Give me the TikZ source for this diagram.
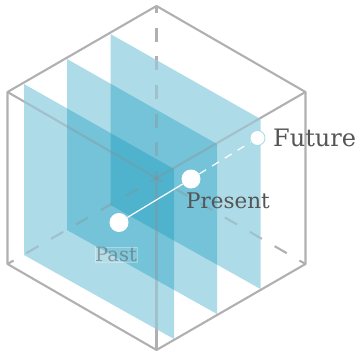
\documentclass[tikz,border=0pt]{standalone}
\usepackage{fontspec}
\setmainfont{DejaVu Serif}
\usepackage{tikz}

\newcommand{\cubeedges}[2]{
    \draw[#1, #2] (top) -- (center);
    \draw[#1, #2] (botleft) -- (center);
    \draw[#1, #2] (botright) -- (center);
    \draw[#2, line join=round] (top) -- (topright) -- (botright) -- (bottom) -- (botleft) -- (topleft) -- cycle;
    \draw[#2] (topleft) -- (center) -- (topright);
    \draw[#2] (center) -- (bottom);
}
\newcommand{\sliceat}[2]{(#1,#2) -- (#1+150,#2+85) -- (#1+150,#2+255) -- (#1,#2+171) -- cycle}

\begin{document}
\begin{tikzpicture}[
    x=1pt, y=-1pt,
    edge/.style={draw=edgegray, line width=2.1pt},
    faintedge/.style={draw=edgedark, line width=2.1pt, draw opacity=0.33},
    hidden/.style={dash pattern=on 14pt off 14.67pt, dash phase=7pt},
    plane/.style={fill=planeblue, fill opacity=0.32},
    dot/.style={circle, fill=white, inner sep=0pt, minimum size=19pt},
    link/.style={draw=white, line width=1.2pt},
    label/.style={text=labelgray, inner sep=0pt}
    ]
    \definecolor{edgegray}{RGB}{176,176,176}
    \definecolor{edgedark}{RGB}{140,140,140}
    \definecolor{planeblue}{RGB}{0,146,185}
    \definecolor{labelgray}{RGB}{85,85,85}
    \useasboundingbox (0,0) rectangle (357,354);

    % cube corners
    \coordinate (top) at (156.5,6);
    \coordinate (topleft) at (7.5,92);
    \coordinate (topright) at (305.5,92);
    \coordinate (center) at (156.5,178);
    \coordinate (botleft) at (7.5,264);
    \coordinate (botright) at (305.5,264);
    \coordinate (bottom) at (156.5,350);

    \cubeedges{hidden}{edge}

    % time slices
    \fill[white] \sliceat{24}{84} \sliceat{67}{59} \sliceat{110.5}{34};
    \fill[plane] \sliceat{24}{84};
    \fill[plane] \sliceat{67}{59};
    \fill[plane] \sliceat{110.5}{34};

    % edges seen through the slices
    \begin{scope}
        \clip \sliceat{24}{84} \sliceat{67}{59} \sliceat{110.5}{34};
        \cubeedges{hidden}{faintedge}
    \end{scope}

    \node[label, font=\fontsize{19.5}{20}\selectfont, text opacity=0.5, fill=white, fill opacity=0.1, draw=white, draw opacity=0.3, line width=0.5pt, minimum width=42pt, minimum height=15pt] (pastlabel) at (116,254.5) {Past};

    \node[dot] (past) at (119,222.5) {};
    \node[dot] (present) at (191,179) {};
    \node[dot, minimum size=15pt, draw=planeblue!35, line width=0.8pt] (future) at (257.5,138) {};

    \draw[link] (past) -- (present);
    \draw[link, dash pattern=on 8pt off 7pt] (present) -- (future);

    \node[label, font=\fontsize{21.5}{22}\selectfont] (presentlabel) at (228,201) {Present};
    \node[label, font=\fontsize{24}{24}\selectfont, anchor=west] (futurelabel) at (273,138) {Future};
\end{tikzpicture}
\end{document}
